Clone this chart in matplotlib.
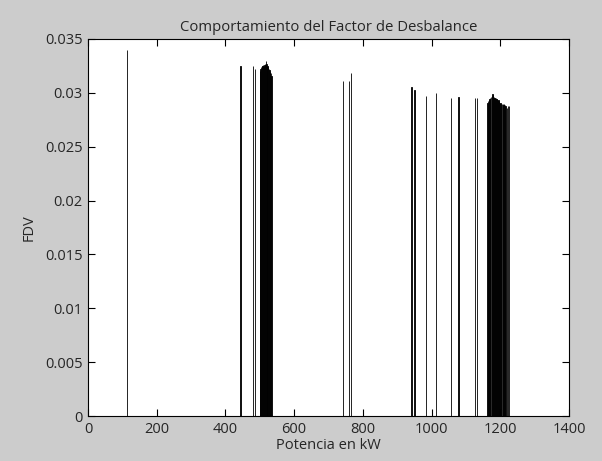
import matplotlib
matplotlib.use("Agg")
from matplotlib import pyplot as plt

# potencia (kW) y factor de desbalance
potencia_sueltas = [113, 444, 480, 487, 742, 760, 766, 942, 950, 983, 1012,
                    1056, 1078, 1127, 1133, 1220, 1222, 1226]
fdv_sueltas = [0.0340, 0.0325, 0.0325, 0.0322, 0.0311, 0.0311, 0.0318, 0.0305,
               0.0303, 0.0297, 0.0300, 0.0295, 0.0296, 0.0295, 0.0295, 0.0286,
               0.0288, 0.0288]

potencia_bloque1 = [500, 502, 504, 506, 508, 510, 512, 514, 516, 518, 520,
                    522, 524, 526, 528, 530, 532, 534]
fdv_bloque1 = [0.0320, 0.0322, 0.0324, 0.0325, 0.0325, 0.0326, 0.0325, 0.0326,
               0.0327, 0.0330, 0.0327, 0.0325, 0.0324, 0.0322, 0.0321, 0.0319,
               0.0318, 0.0316]

potencia_bloque2 = [1163, 1165, 1167, 1169, 1171, 1173, 1175, 1177, 1179, 1181,
                    1183, 1185, 1187, 1189, 1191, 1193, 1195, 1197, 1199, 1201,
                    1203, 1205, 1207, 1209, 1211, 1213, 1215]
fdv_bloque2 = [0.0291, 0.0292, 0.0293, 0.0294, 0.0295, 0.0296, 0.0297, 0.0299,
               0.0298, 0.0296, 0.0295, 0.0295, 0.0295, 0.0294, 0.0294, 0.0293,
               0.0293, 0.0292, 0.0291, 0.0291, 0.0290, 0.0290, 0.0290, 0.0289,
               0.0290, 0.0289, 0.0288]

x_ticks = [0, 200, 400, 600, 800, 1000, 1200, 1400]
y_ticks = [0, 0.005, 0.01, 0.015, 0.02, 0.025, 0.03, 0.035]
y_tick_labels = ["0", "0.005", "0.01", "0.015", "0.02", "0.025", "0.03", "0.035"]

plt.rcParams['font.family'] = ['Open Sans', 'DejaVu Sans']
texto = '#262626'

fig = plt.figure(figsize=(6.02, 4.61), dpi=100, facecolor='#cccccc')
ax = fig.add_axes([88 / 602, 45 / 461, 481 / 602, 377 / 461])
ax.set_facecolor('white')

for xs, ys in [(potencia_sueltas, fdv_sueltas),
               (potencia_bloque1, fdv_bloque1),
               (potencia_bloque2, fdv_bloque2)]:
    ax.bar(xs, ys, width=1.0, color='k', edgecolor='k', linewidth=0.6)

ax.set_xlim(0, 1400)
ax.set_ylim(0, 0.035)
ax.set_xticks(x_ticks)
ax.set_xticklabels([str(t) for t in x_ticks])
ax.set_yticks(y_ticks)
ax.set_yticklabels(y_tick_labels)
ax.tick_params(direction='in', length=5, width=0.8, top=True, right=True,
               labelsize=10.5, labelcolor=texto, pad=4)
for s in ax.spines.values():
    s.set_linewidth(0.8)

ax.set_title('Comportamiento del Factor de Desbalance', fontsize=10.7,
             color=texto, pad=6)
ax.set_xlabel('Potencia en kW', fontsize=10.5, color=texto, labelpad=1)
ax.set_ylabel('FDV', fontsize=10.5, color=texto, labelpad=6)

fig.savefig('out.png', dpi=100, facecolor=fig.get_facecolor())
